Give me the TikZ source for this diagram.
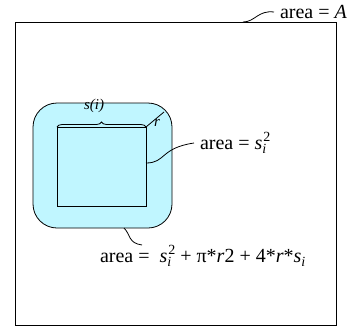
\documentclass[tikz,border=0pt]{standalone}
\usepackage{fontspec}
\setmainfont{Liberation Serif}
\usetikzlibrary{decorations.pathreplacing}
\definecolor{reachblue}{RGB}{192,246,255}
\newcommand{\lowi}{\raisebox{-4.5pt}{\fontsize{14}{16}\selectfont\textit{i}}}
\newcommand{\sisq}{\textit{s}\rlap{\lowi}\kern1pt\raisebox{8pt}{\fontsize{14}{16}\selectfont 2}}

\begin{document}
\begin{tikzpicture}[x=1pt,y=-1pt,line width=0.8pt,
		lbl/.style={font=\rmfamily\fontsize{20}{24}\selectfont,inner sep=0pt,outer sep=6pt,anchor=west},
		tag/.style={font=\rmfamily\fontsize{15}{18}\selectfont\itshape,inner sep=0pt}]
	\useasboundingbox (0,0) rectangle (355,335);
	\draw (15,22) rectangle (336,325);
	\draw[fill=reachblue,rounded corners=24pt] (33,103) rectangle (172,228);
	\draw (57,127) coordinate (sqnw) rectangle (146,206);
	\draw[decorate,decoration={brace,amplitude=5pt}] (sqnw) -- (146,127) coordinate (sqne);
	\node[tag] (side) at (94,106) {s(i)};
	\coordinate (rim) at (164,112);
	\draw (sqne) -- (rim);
	\node[tag] (rad) at (157,123) {r};
	\node[lbl] (areaA) at (274,12) {area = \textit{A}};
	\node[lbl] (areaS) at (194,143) {area = \sisq};
	\node[lbl,outer sep=0pt] (areaR) at (100,256) {area = \ \sisq\ + π*\textit{r}2 + 4*\textit{r}*\textit{s}\lowi};
	\coordinate (boxtop) at (243,22);
	\coordinate (sqside) at (146,163);
	\coordinate (rndbot) at (124,228);
	\coordinate (tipR) at (142,245);
	\draw (boxtop) .. controls (255,22) and (258,10) .. (areaA.west);
	\draw (sqside) .. controls (166,163) and (160,148) .. (areaS.west);
	\draw (rndbot) .. controls (131,235) and (128,243) .. (tipR);
\end{tikzpicture}
\end{document}
